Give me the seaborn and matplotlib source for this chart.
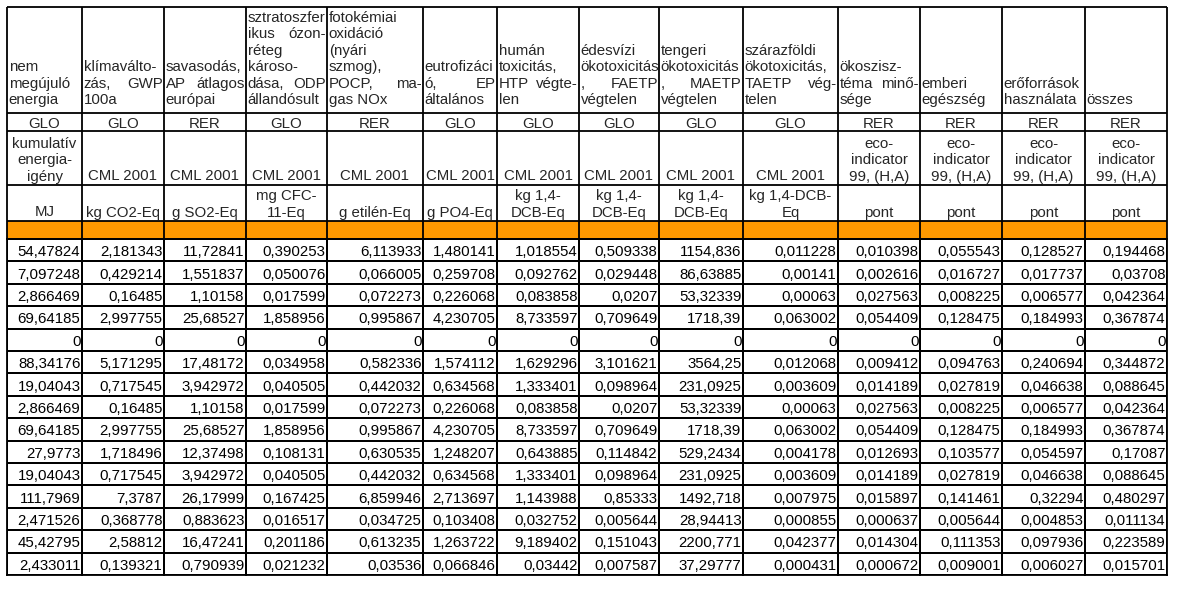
import numpy as np
import matplotlib
matplotlib.use("Agg")
import matplotlib.pyplot as plt
from matplotlib.colors import ListedColormap
import seaborn as sns

# --- table content ---------------------------------------------------------
impact_names = [
    ["nem", "megújuló", "energia"],
    ["klímaválto-", "zás,|GWP", "100a"],
    ["savasodás,", "AP|átlagos", "európai"],
    ["sztratoszfer", "ikus|ózon-", "réteg", "károso-", "dása,|ODP", "állandósult"],
    ["fotokémiai", "oxidáció", "(nyári", "szmog),", "POCP,|ma-", "gas NOx"],
    ["eutrofizáci", "ó,|EP", "általános"],
    ["humán", "toxicitás,", "HTP|végte-", "len"],
    ["édesvízi", "ökotoxicitás", ",|FAETP", "végtelen"],
    ["tengeri", "ökotoxicitás", ",|MAETP", "végtelen"],
    ["szárazföldi", "ökotoxicitás,", "TAETP|vég-", "telen"],
    ["ökoszisz-", "téma|minő-", "sége"],
    ["emberi", "egészség"],
    ["erőforrások", "használata"],
    ["összes"],
]
regions = ["GLO", "GLO", "RER", "GLO", "RER", "GLO", "GLO", "GLO", "GLO",
           "GLO", "RER", "RER", "RER", "RER"]
methods = (["kumulatív\nenergia-\nigény"] + ["CML 2001"] * 9
           + ["eco-\nindicator\n99, (H,A)"] * 4)
units = ["MJ", "kg CO2-Eq", "g SO2-Eq", "mg CFC-\n11-Eq", "g etilén-Eq",
         "g PO4-Eq", "kg 1,4-\nDCB-Eq", "kg 1,4-\nDCB-Eq", "kg 1,4-\nDCB-Eq",
         "kg 1,4-DCB-\nEq", "pont", "pont", "pont", "pont"]

row01 = [54.47824, 2.181343, 11.72841, 0.390253, 6.113933, 1.480141, 1.018554, 0.509338, 1154.836, 0.011228, 0.010398, 0.055543, 0.128527, 0.194468]
row02 = [7.097248, 0.429214, 1.551837, 0.050076, 0.066005, 0.259708, 0.092762, 0.029448, 86.63885, 0.00141, 0.002616, 0.016727, 0.017737, 0.03708]
row03 = [2.866469, 0.16485, 1.10158, 0.017599, 0.072273, 0.226068, 0.083858, 0.0207, 53.32339, 0.00063, 0.027563, 0.008225, 0.006577, 0.042364]
row04 = [69.64185, 2.997755, 25.68527, 1.858956, 0.995867, 4.230705, 8.733597, 0.709649, 1718.39, 0.063002, 0.054409, 0.128475, 0.184993, 0.367874]
row05 = [0, 0, 0, 0, 0, 0, 0, 0, 0, 0, 0, 0, 0, 0]
row06 = [88.34176, 5.171295, 17.48172, 0.034958, 0.582336, 1.574112, 1.629296, 3.101621, 3564.25, 0.012068, 0.009412, 0.094763, 0.240694, 0.344872]
row07 = [19.04043, 0.717545, 3.942972, 0.040505, 0.442032, 0.634568, 1.333401, 0.098964, 231.0925, 0.003609, 0.014189, 0.027819, 0.046638, 0.088645]
row08 = [2.866469, 0.16485, 1.10158, 0.017599, 0.072273, 0.226068, 0.083858, 0.0207, 53.32339, 0.00063, 0.027563, 0.008225, 0.006577, 0.042364]
row09 = [69.64185, 2.997755, 25.68527, 1.858956, 0.995867, 4.230705, 8.733597, 0.709649, 1718.39, 0.063002, 0.054409, 0.128475, 0.184993, 0.367874]
row10 = [27.9773, 1.718496, 12.37498, 0.108131, 0.630535, 1.248207, 0.643885, 0.114842, 529.2434, 0.004178, 0.012693, 0.103577, 0.054597, 0.17087]
row11 = [19.04043, 0.717545, 3.942972, 0.040505, 0.442032, 0.634568, 1.333401, 0.098964, 231.0925, 0.003609, 0.014189, 0.027819, 0.046638, 0.088645]
row12 = [111.7969, 7.3787, 26.17999, 0.167425, 6.859946, 2.713697, 1.143988, 0.85333, 1492.718, 0.007975, 0.015897, 0.141461, 0.32294, 0.480297]
row13 = [2.471526, 0.368778, 0.883623, 0.016517, 0.034725, 0.103408, 0.032752, 0.005644, 28.94413, 0.000855, 0.000637, 0.005644, 0.004853, 0.011134]
row14 = [45.42795, 2.58812, 16.47241, 0.201186, 0.613235, 1.263722, 9.189402, 0.151043, 2200.771, 0.042377, 0.014304, 0.111353, 0.097936, 0.223589]
row15 = [2.433011, 0.139321, 0.790939, 0.021232, 0.03536, 0.066846, 0.03442, 0.007587, 37.29777, 0.000431, 0.000672, 0.009001, 0.006027, 0.015701]

values = np.array([row01, row02, row03, row04, row05, row06, row07, row08,
                   row09, row10, row11, row12, row13, row14, row15])

# --- layout (pixels) -------------------------------------------------------
W, H = 1177, 594
col_x = [7, 82, 164, 246, 327, 423, 497, 579, 659, 743, 838, 920, 1002, 1085, 1167]
head_y = [7, 113, 131, 185, 221, 239]
table_bottom = 575
LW = 1.3
FS = 10.8
ORANGE = "#ff9900"


def hu(v):
    # excel "general" format with decimal comma
    return f"{v:.7g}".replace(".", ",")


sns.set_theme(style="white")
plt.rcParams["font.family"] = ["Liberation Sans", "DejaVu Sans"]

fig = plt.figure(figsize=(W / 100, H / 100), dpi=100)
fig.patch.set_facecolor("white")

# header overlay in pixel coordinates
hx = fig.add_axes([0, 0, 1, 1])
hx.set_xlim(0, W)
hx.set_ylim(H, 0)
hx.axis("off")
hx.fill_between([col_x[0], col_x[-1]], head_y[4], head_y[5], color=ORANGE, lw=0)
hx.hlines(head_y, col_x[0], col_x[-1], color="black", lw=LW)
hx.vlines(col_x, head_y[0], head_y[-1], color="black", lw=LW)

pitch = 16.4
for j, lines in enumerate(impact_names):
    x0, x1 = col_x[j] + 1.8, col_x[j + 1] - 1.2
    xc = (col_x[j] + col_x[j + 1]) / 2
    n = len(lines)
    for k, line in enumerate(lines):
        y = 104 - (n - 1 - k) * pitch
        if "|" in line:
            a, b = line.split("|")
            hx.text(x0, y, a, ha="left", va="baseline", fontsize=FS)
            hx.text(x1, y, b, ha="right", va="baseline", fontsize=FS)
        else:
            hx.text(x0, y, line, ha="left", va="baseline", fontsize=FS)
    hx.text(xc, 127.5, regions[j], ha="center", va="baseline", fontsize=FS)
    for rowtxt, base in ((methods[j], 180.5), (units[j], 216.5)):
        parts = rowtxt.split("\n")
        for k, p in enumerate(parts):
            y = base - (len(parts) - 1 - k) * pitch
            hx.text(xc, y, p, ha="center", va="baseline", fontsize=FS)

# data cells: one heatmap per column (columns have different widths)
white = ListedColormap(["white"])
cell_h = (table_bottom - head_y[-1]) / values.shape[0]
for j in range(values.shape[1]):
    wpx = col_x[j + 1] - col_x[j]
    ax = fig.add_axes([col_x[j] / W, (H - table_bottom) / H,
                       wpx / W, (table_bottom - head_y[-1]) / H])
    col = values[:, j:j + 1]
    labels = np.array([[hu(v)] for v in col[:, 0]])
    sns.heatmap(col, ax=ax, cmap=white, cbar=False, annot=labels, fmt="",
                linewidths=LW, linecolor="black", xticklabels=False,
                yticklabels=False, annot_kws={"fontsize": FS, "color": "black"})
    for t in ax.texts:
        t.set_ha("right")
        t.set_va("baseline")
        x, y = t.get_position()
        t.set_position((1 - 1.6 / wpx, y + 0.5 - 5.2 / cell_h))
    for s in ax.spines.values():
        s.set_visible(True)
        s.set_color("black")
        s.set_linewidth(LW)

fig.savefig("out.png", dpi=100, facecolor="white")
